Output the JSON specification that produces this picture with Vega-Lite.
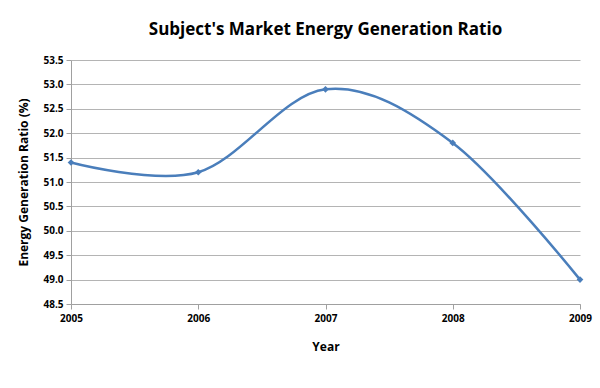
{
  "$schema": "https://vega.github.io/schema/vega-lite/v6.json",
  "autosize": "none",
  "width": 509,
  "height": 244,
  "padding": {"left": 71, "top": 60, "right": 20, "bottom": 84},
  "background": "white",
  "title": {
    "text": "Subject's Market Energy Generation Ratio",
    "font": "Open Sans",
    "fontSize": 17,
    "fontWeight": "bold",
    "color": "#000000",
    "anchor": "middle",
    "offset": 16
  },
  "data": {
    "values": [
      {"Year": 2005, "Ratio": 51.4},
      {"Year": 2006, "Ratio": 51.2},
      {"Year": 2007, "Ratio": 52.9},
      {"Year": 2008, "Ratio": 51.8},
      {"Year": 2009, "Ratio": 49.0}
    ]
  },
  "config": {
    "view": {"stroke": null},
    "axis": {
      "labelFont": "Open Sans",
      "labelFontWeight": "bold",
      "labelFontSize": 10,
      "labelColor": "#000000",
      "titleFont": "Open Sans",
      "titleFontWeight": "bold",
      "titleFontSize": 12,
      "titleColor": "#000000",
      "domainColor": "#a0a0a0",
      "tickColor": "#a0a0a0",
      "gridColor": "#b4b4b4"
    }
  },
  "encoding": {
    "x": {
      "field": "Year",
      "type": "quantitative",
      "scale": {"domain": [2005, 2009], "nice": false, "zero": false},
      "axis": {
        "values": [2005, 2006, 2007, 2008, 2009],
        "format": "d",
        "grid": false,
        "title": "Year",
        "titlePadding": 18,
        "tickSize": 5,
        "labelPadding": 4,
        "labelFlush": false
      }
    },
    "y": {
      "field": "Ratio",
      "type": "quantitative",
      "scale": {"domain": [48.5, 53.5], "nice": false, "zero": false},
      "axis": {
        "values": [48.5, 49, 49.5, 50, 50.5, 51, 51.5, 52, 52.5, 53, 53.5],
        "format": ".1f",
        "title": "Energy Generation Ratio (%)",
        "titlePadding": 12,
        "tickSize": 5,
        "labelPadding": 3,
        "labelFlush": false
      }
    }
  },
  "layer": [
    {
      "mark": {"type": "line", "interpolate": "cardinal", "color": "#4a7ebb", "strokeWidth": 2.5}
    },
    {
      "mark": {"type": "point", "shape": "diamond", "filled": true, "color": "#4a7ebb", "size": 45, "opacity": 1}
    }
  ]
}
